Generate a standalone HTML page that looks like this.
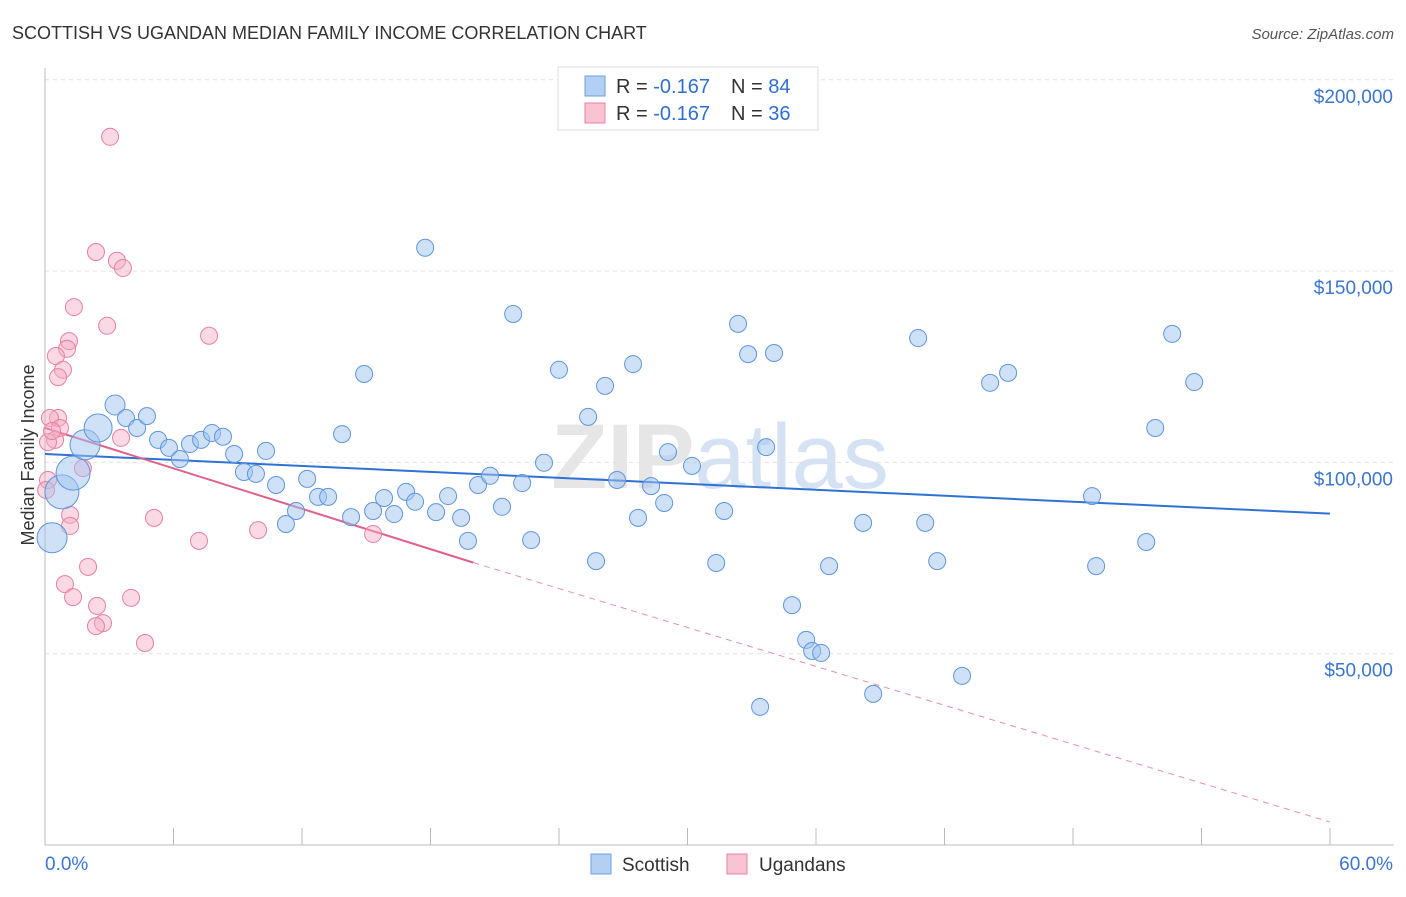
<!DOCTYPE html>
<html><head><meta charset="utf-8"><style>
body{margin:0;background:#fff;font-family:"Liberation Sans",sans-serif;}
svg text{font-family:"Liberation Sans",sans-serif;}
</style></head><body>
<svg id="chart" width="1406" height="892" xmlns="http://www.w3.org/2000/svg">
<text x="12" y="39" font-size="18" fill="#333">SCOTTISH VS UGANDAN MEDIAN FAMILY INCOME CORRELATION CHART</text>
<text x="1394" y="39" font-size="15" fill="#555" font-style="italic" text-anchor="end">Source: ZipAtlas.com</text>
<text x="720" y="488" font-size="92" fill="#e6e6e6" text-anchor="middle" font-weight="bold" font-family="Liberation Serif">ZIP<tspan fill="#d4e2f4" font-weight="normal" font-family="Liberation Sans">atlas</tspan></text>
<g id="grid"></g><g id="axes"></g><g id="trends"></g><g id="pts"></g>
<text transform="translate(34,455) rotate(-90)" font-size="18" fill="#333" text-anchor="middle">Median Family Income</text>
<g>
<rect x="558" y="67" width="260" height="63" fill="#fff" stroke="#ddd"/>
<rect x="585" y="76" width="20" height="20" fill="#b3d0f3" stroke="#6a9fe0"/>
<rect x="585" y="103" width="20" height="20" fill="#f8c4d4" stroke="#e8809f"/>
<text x="616" y="93" font-size="20" fill="#333">R = <tspan fill="#2f6fd1">-0.167</tspan><tspan x="731">N = </tspan><tspan fill="#2f6fd1">84</tspan></text>
<text x="616" y="120" font-size="20" fill="#333">R = <tspan fill="#2f6fd1">-0.167</tspan><tspan x="731">N = </tspan><tspan fill="#2f6fd1">36</tspan></text>
</g>
<g>
<rect x="591" y="854" width="20" height="20" fill="#b3d0f3" stroke="#6a9fe0"/>
<text x="622" y="871" font-size="19" fill="#333">Scottish</text>
<rect x="727" y="854" width="20" height="20" fill="#f8c4d4" stroke="#e8809f"/>
<text x="759" y="871" font-size="19" fill="#333">Ugandans</text>
</g>
</svg>
<script>
const blueX=[0.33,0.79,1.31,1.87,2.48,3.27,3.78,4.30,4.76,5.28,5.79,6.30,6.77,7.29,7.80,8.31,8.83,9.29,9.85,10.32,10.79,11.72,11.25,12.24,12.75,13.22,13.87,14.29,14.90,15.32,15.83,16.30,16.86,17.28,17.75,18.26,18.82,19.43,19.75,20.22,20.78,21.34,21.86,22.28,22.70,23.30,24.00,25.36,25.73,26.15,26.71,27.46,27.69,28.30,28.91,29.09,30.21,31.34,31.71,32.36,32.83,33.39,33.67,34.04,34.88,35.54,35.82,36.24,36.61,38.20,38.67,40.77,41.10,41.66,42.82,44.13,44.97,48.89,49.08,51.42,51.84,52.63,53.66];
const blueY=[80.3,92.3,97.2,104.6,109.0,115.0,111.6,109.0,112.1,105.9,103.8,100.9,104.8,105.9,107.7,106.7,102.2,97.5,97.0,103.0,94.1,87.3,83.9,95.7,91.0,91.0,107.4,85.7,123.1,87.3,90.7,86.5,92.3,89.7,156.1,87.0,91.2,85.5,79.5,94.1,96.5,88.4,138.8,94.6,79.7,99.9,124.2,111.9,74.2,120.0,95.4,125.7,85.5,93.8,89.4,102.7,99.1,73.7,87.3,136.2,128.3,36.1,104.0,128.6,62.7,53.6,50.7,50.2,72.9,84.2,39.5,132.5,84.2,74.2,44.2,120.8,123.4,91.2,72.9,79.2,109.0,133.6,121.0];
const blueSize=[15,17,17,15,14,10];
const pinkX=[3.04,2.38,3.36,3.64,1.35,2.90,7.66,1.12,1.03,0.51,0.84,0.61,0.61,0.23,0.70,0.47,0.14,3.55,1.77,0.14,1.17,5.09,1.17,7.19,9.95,15.32,2.01,0.93,1.31,4.02,2.43,2.71,2.38,4.67,0.33,0.05];
const pinkY=[185.1,155.0,152.7,150.8,140.6,135.7,133.1,131.7,129.7,127.8,124.2,122.3,111.6,111.6,109.0,105.9,105.3,106.4,98.5,95.4,86.3,85.5,83.4,79.5,82.3,81.3,72.7,68.2,64.8,64.6,62.5,58.0,57.2,52.8,108.2,92.8];
const blueTrend=[[0,102.2],[60,86.6]];
const pinkTrend=[[0,109.0],[20,73.8],[60,6.0]];
const yTicks=[50,100,150,200];
const yTickLabels=["$50,000","$100,000","$150,000","$200,000"];
const xTicks=[0,6,12,18,24,30,36,42,48,54,60];

const NS="http://www.w3.org/2000/svg";
const sx=v=>45+v/60*1285;
const sy=v=>845-v/50*191.3;
function mk(tag,attrs,parent){const e=document.createElementNS(NS,tag);for(const k in attrs)e.setAttribute(k,attrs[k]);document.getElementById(parent).appendChild(e);return e;}

yTicks.forEach((t,i)=>{
  const l=mk('line',{x1:45,x2:1394,y1:sy(t),y2:sy(t),stroke:'#e2e2e2','stroke-dasharray':'4,4'},'grid');
  
  
  const tx=mk('text',{x:1393,y:sy(t)+23,'font-size':19,fill:'#3a75d0','text-anchor':'end'},'grid');
  tx.textContent=yTickLabels[i];
  
  
});
const ya=mk('line',{x1:45,x2:45,y1:68,y2:845,stroke:'#bbb'},'axes');


const xa=mk('line',{x1:45,x2:1394,y1:845,y2:845,stroke:'#bbb'},'axes');


xTicks.forEach(t=>{
  const l=mk('line',{x1:sx(t),x2:sx(t),y1:828,y2:845,stroke:'#bbb'},'axes');
  
  
});
const xl0=mk('text',{x:45,y:870,'font-size':19,fill:'#3a75d0'},'axes');xl0.textContent=xTicks[0].toFixed(1)+'%';


const xl1=mk('text',{x:1393,y:870,'font-size':19,fill:'#3a75d0','text-anchor':'end'},'axes');xl1.textContent=xTicks[xTicks.length-1].toFixed(1)+'%';



pinkX.forEach((x,i)=>{
  const c=mk('circle',{cx:sx(x),cy:sy(pinkY[i]),r:8.5,fill:'rgba(245,170,195,0.45)',stroke:'#e8809f','stroke-width':1},'pts');
  
  
});
blueX.forEach((x,i)=>{
  const c=mk('circle',{cx:sx(x),cy:sy(blueY[i]),r:blueSize[i]||8.5,fill:'rgba(160,195,240,0.5)',stroke:'#5f95dd','stroke-width':1},'pts');
  
  
});
const bt=mk('line',{x1:sx(blueTrend[0][0]),y1:sy(blueTrend[0][1]),x2:sx(blueTrend[1][0]),y2:sy(blueTrend[1][1]),stroke:'#2f72d6','stroke-width':2},'trends');


const pt=mk('line',{x1:sx(pinkTrend[0][0]),y1:sy(pinkTrend[0][1]),x2:sx(pinkTrend[1][0]),y2:sy(pinkTrend[1][1]),stroke:'#e0608a','stroke-width':2},'trends');


const pd=mk('line',{x1:sx(pinkTrend[1][0]),y1:sy(pinkTrend[1][1]),x2:sx(pinkTrend[2][0]),y2:sy(pinkTrend[2][1]),stroke:'#e890ad','stroke-width':1,'stroke-dasharray':'6,5'},'trends');


</script>
</body></html>
